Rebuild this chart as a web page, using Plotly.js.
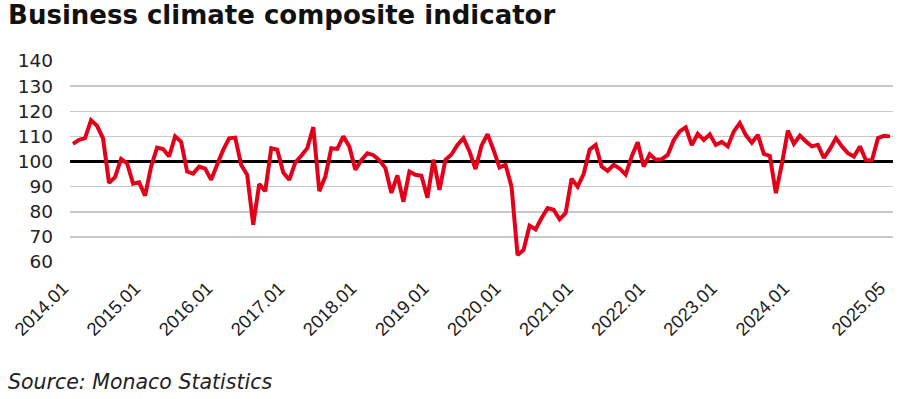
<!DOCTYPE html>
<html>
<head>
<meta charset="utf-8">
<script src="https://cdn.plot.ly/plotly-3.0.1.min.js"></script>
<style>
html, body { margin: 0; padding: 0; background: #ffffff; }
#chart { width: 900px; height: 399px; }
</style>
</head>
<body>
<div id="chart"></div>
<script>
// Monthly business climate composite indicator, 2014.01 – 2025.05
var startYear = 2014;
var startMonth = 1;
var indicatorValues = [
  107, 108.6, 109.3, 116.4, 114.2, 109.2, 91.5, 93.8, 101, 99.3, 91.2, 91.7,
  86.4, 98, 105.5, 105, 102, 110, 107.8, 96, 95.2, 98, 97.2, 92.7,
  98.8, 104.6, 109.2, 109.5, 98.6, 94.7, 74.8, 91, 88.2, 105.3, 104.7, 95.6,
  92.7, 99.6, 102.3, 105.3, 113.7, 88.2, 94, 105.3, 105, 110, 106, 96.7,
  100.5, 103.3, 102.5, 100.5, 97.4, 87.5, 94.5, 84, 96, 94.7, 94.3, 85.6,
  100.7, 88.7, 100.7, 102.8, 106.6, 109.3, 104, 97, 106.3, 110.9, 104.6, 97.6,
  98.7, 90, 62.8, 64.8, 74.5, 73, 77.5, 81.5, 80.8, 77, 79.5, 93.2,
  90, 95, 104.7, 106.6, 98, 96.3, 98.7, 97.2, 94.8, 102, 107.7, 98,
  102.9, 100.7, 100.9, 102.6, 108.5, 112, 113.6, 106.5, 111, 108.6, 110.8, 106.6,
  107.8, 106, 112, 115.3, 110.5, 107.5, 110.6, 103, 102.2, 87.4, 99, 112.3,
  107, 110.3, 108, 106, 106.6, 101.4, 105, 109.3, 106, 103.3, 102, 106,
  100.5, 100.5, 109.3, 110.2, 110
];
var referenceLevel = 100;
var tickLabels = ["2014.01","2015.01","2016.01","2017.01","2018.01","2019.01",
                  "2020.01","2021.01","2022.01","2023.01","2024.01","2025.05"];
var yTicks = [60, 70, 80, 90, 100, 110, 120, 130, 140];

// period labels and their positions on the axis
var periods = [];
var positions = [];
for (var k = 0; k < indicatorValues.length; k++) {
  var m = startMonth - 1 + k;
  var yy = startYear + Math.floor(m / 12);
  var mm = (m % 12) + 1;
  periods.push(yy + "." + (mm < 10 ? "0" + mm : "" + mm));
  positions.push(k);
}
var tickPositions = tickLabels.map(function (t) { return periods.indexOf(t); });
var xRange = [-0.5, indicatorValues.length - 0.5];

var sansFont = "Liberation Sans, Arial, Helvetica, sans-serif";
var wideFont = "DejaVu Sans, Verdana, sans-serif";

var traces = [
  {
    // reference level (index = 100) across the full plot width
    x: xRange,
    y: [referenceLevel, referenceLevel],
    type: "scatter", mode: "lines",
    line: { color: "#000000", width: 3 },
    hoverinfo: "skip", showlegend: false, cliponaxis: false
  },
  {
    x: positions,
    y: indicatorValues,
    text: periods,
    type: "scatter", mode: "lines",
    line: { color: "#e2001a", width: 4 },
    showlegend: false
  }
];

var layout = {
  width: 900, height: 399,
  paper_bgcolor: "#ffffff", plot_bgcolor: "#ffffff",
  margin: { l: 70, r: 7, t: 61, b: 137 },
  font: { family: sansFont, color: "#222222", size: 19 },
  title: {
    text: "<b>Business climate composite indicator</b>",
    font: { family: wideFont, size: 26, color: "#111111" },
    x: 0.009, xref: "container", xanchor: "left", y: 0.985, yanchor: "top",
    pad: { l: 0, t: 0 }
  },
  xaxis: {
    range: xRange,
    tickmode: "array", tickvals: tickPositions, ticktext: tickLabels,
    tickangle: -45, showgrid: false, zeroline: false, showline: false,
    ticks: "", ticklabelstandoff: 11, ticklabelshift: -10,
    tickfont: { family: sansFont, size: 18.5, color: "#222222" }
  },
  yaxis: {
    range: [60, 140], tickmode: "array", tickvals: yTicks,
    showgrid: true, gridcolor: "#c8c8c8", gridwidth: 1.5,
    zeroline: false, showline: false, ticks: "",
    ticklabelstandoff: 16,
    tickfont: { family: wideFont, size: 18.5, color: "#222222" }
  },
  annotations: [
    {
      text: "<i>Source: Monaco Statistics</i>",
      xref: "paper", yref: "paper", x: -64 / 823, y: 0,
      xanchor: "left", yanchor: "top", showarrow: false,
      yshift: -106,
      font: { family: wideFont, size: 20.5, color: "#222222" }
    }
  ]
};

Plotly.newPlot("chart", traces, layout, { staticPlot: true, displayModeBar: false });
</script>
</body>
</html>
